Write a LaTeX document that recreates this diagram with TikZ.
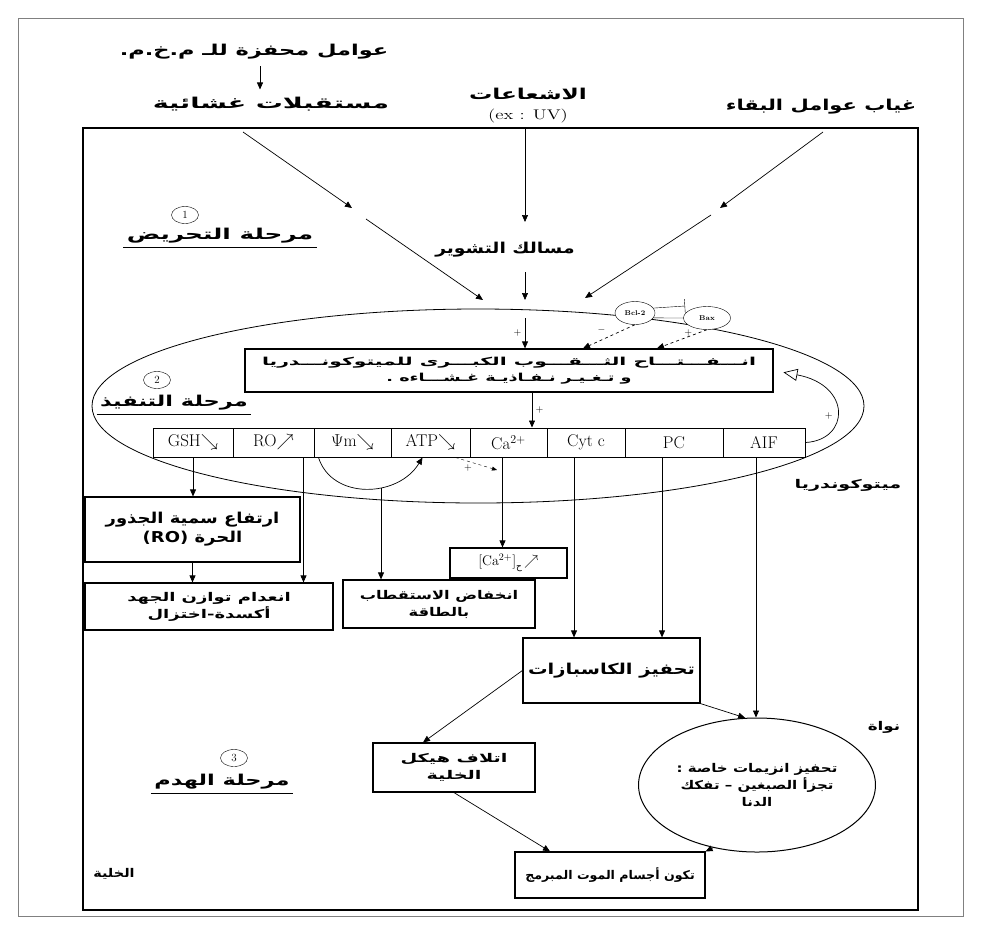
\documentclass[tikz,border=0pt]{standalone}
\usepackage{fontspec}
\usepackage{amsmath}
\usepackage{graphicx}
\usetikzlibrary{arrows.meta, positioning, shapes.geometric}
\TeXXeTstate=1
\newfontfamily\arabicfont[Script=Arabic]{DejaVu Sans}
% right-to-left line, stretched sideways to the width of the printed label
\newcommand{\rtl}[2][1]{\scalebox{#1}[1]{\beginR #2\endR}}

\tikzset{
  cellframe/.style={draw, line width=1.2pt},
  box/.style={draw, line width=1.2pt, align=center, inner sep=2pt},
  cellbox/.style={draw, line width=1pt, minimum height=29pt, inner sep=0pt, font=\fontsize{17}{19}\selectfont},
  flow/.style={-{Triangle[length=7pt,width=6pt]}, line width=0.7pt},
  lab/.style={font=\arabicfont\bfseries\fontsize{15}{19}\selectfont, align=center},
  small lab/.style={font=\arabicfont\bfseries\fontsize{12}{17}\selectfont, align=center},
  stagenum/.style={draw, ellipse, inner sep=0pt, minimum width=27pt, minimum height=17pt, font=\fontsize{11}{11}\selectfont},
  protein/.style={draw, ellipse, inner sep=0pt, minimum height=23pt, font=\fontsize{7}{8}\selectfont\bfseries}
}

\begin{document}
\begin{tikzpicture}[x=1pt, y=-1pt]
    \useasboundingbox (0,0) rectangle (981,924);

    % outer frame and cell
    \draw[line width=0.6pt, gray] (18,18) rectangle (963,916);
    \draw[cellframe] (83,128) rectangle (918,910);

    % mitochondrion
    \node[draw, ellipse, line width=0.8pt, minimum width=772pt, minimum height=194pt] (mito) at (478,406) {};

    % inducers
    \node[lab] (trig) at (254,52) {\rtl[1.5]{عوامل محفزة للـ م.خ.م.}};
    \node[lab] (recep) at (271,104) {\rtl[1.8]{مستقبلات غشائية}};
    \node[lab] (rad) at (528,94) {\rtl[1.55]{الاشعاعات}};
    \node[font=\fontsize{14}{16}\selectfont] (ex) at (528,116) {\scalebox{1.35}[1]{(ex : UV)}};
    \node[lab] (surv) at (821,107) {\rtl[1.4]{غياب عوامل البقاء}};
    \draw[flow, shorten <=3pt, shorten >=4pt] (trig.south -| 260,0) -- (recep.north -| 260,0);

    % stage 1
    \node[stagenum] (n1) at (185,215) {1};
    \node[lab] (st1) at (220,236) {\rtl[1.65]{مرحلة التحريض}};
    \draw (st1.south west) -- (st1.south east);
    \node[lab] (sigway) at (505,250) {\rtl[1.25]{مسالك التشوير}};

    % signal arrows
    \coordinate (l0) at (243,132); \coordinate (l1) at (352,208);
    \coordinate (l2) at (366,219); \coordinate (l3) at (483,300);
    \coordinate (r0) at (823,132); \coordinate (r1) at (720,208);
    \coordinate (r2) at (711,215); \coordinate (r3) at (585,298);
    \coordinate (c0) at (525,128); \coordinate (c1) at (525,222);
    \coordinate (c2) at (525,272); \coordinate (c3) at (525,300);
    \coordinate (c4) at (525,318);
    \draw[flow] (l0) -- (l1); \draw[flow] (l2) -- (l3);
    \draw[flow] (r0) -- (r1); \draw[flow] (r2) -- (r3);
    \draw[flow] (c0) -- (c1); \draw[flow] (c2) -- (c3);

    % membrane pore box
    \node[box, minimum width=528pt, minimum height=43pt, font=\arabicfont\bfseries\fontsize{11}{16}\selectfont] (mpt) at (509,370.5)
      {\rtl[1.85]{انـــفـــتـــاح الثـــقـــوب الكبـــرى للميتوكونـــدريا}\\\rtl[1.6]{و تـغـيـر نـفـاذيـة غـشـــاءه .}};
    \draw[flow] (c4) -- (c4 |- mpt.north) node[midway, left] {+};

    % Bcl-2 / Bax
    \node[protein, minimum width=40pt, fill=white] (bcl) at (635,313) {Bcl-2};
    \node[protein, minimum width=47pt, fill=white] (bax) at (707,318) {Bax};
    \coordinate (inh) at (685,306);
    \draw[-{Bar[width=14pt]}] (bcl.15) -- (inh);
    \draw (bcl.-15) -- (bax.west);
    \draw[flow, dashed] (bcl.south) -- ([xshift=74pt]mpt.north) node[midway, above left] {$-$};
    \draw[flow, dashed] (bax.south) -- ([xshift=148pt]mpt.north) node[midway, above right=-2pt] {+};

    % stage 2
    \node[stagenum] (n2) at (157,380) {2};
    \node[lab] (st2) at (174,403) {\rtl[1.5]{مرحلة التنفيذ}};
    \draw (st2.south west) -- (st2.south east);

    % mitochondrial factors
    \node[cellbox, minimum width=80pt] (gsh) at (193,442.5) {GSH$\searrow$};
    \node[cellbox, minimum width=81pt] (ro) at (273.5,442.5) {RO$\nearrow$};
    \node[cellbox, minimum width=77pt] (psi) at (352.5,442.5) {$\Psi$m$\searrow$};
    \node[cellbox, minimum width=79pt] (atp) at (430.5,442.5) {ATP$\searrow$};
    \node[cellbox, minimum width=77pt] (ca) at (508.5,442.5) {Ca$^{2+}$};
    \node[cellbox, minimum width=78pt] (cyt) at (586,442.5) {Cyt c};
    \node[cellbox, minimum width=98pt] (pc) at (674,442.5) {PC};
    \node[cellbox, minimum width=82pt] (aif) at (764,442.5) {AIF};
    \draw[flow] ([xshift=23pt]mpt.south) -- ([xshift=23pt]mpt.south |- ca.north) node[midway, right] {+};
    \draw[-{Triangle[open, length=14pt, width=12pt]}, line width=0.7pt, shorten >=10pt]
      (aif.east) .. controls (850,440) and (852,385) .. (mpt.east) node[pos=0.45, left] {+};
    \node[small lab] (mitolab) at (848,485) {\rtl[1.6]{ميتوكوندريا}};

    % consequences
    \node[box, lab, minimum width=215pt, minimum height=65pt] (robox) at (192.5,529.5)
      {\rtl[1.2]{ارتفاع سمية الجذور}\\\rtl[1.2]{الحرة \beginL(RO)\endL}};
    \node[box, small lab, minimum width=248pt, minimum height=47pt] (redox) at (209,606.5)
      {\rtl[1.5]{انعدام توازن الجهد}\\\rtl[1.5]{أكسدة-اختزال}};
    \node[box, small lab, minimum width=192pt, minimum height=48pt] (depol) at (439,604)
      {\rtl[1.35]{انخفاض الاستقطاب}\\\rtl[1.35]{بالطاقة}};
    \node[box, minimum width=117pt, minimum height=30pt, font=\fontsize{14}{16}\selectfont] (cac) at (508.5,563)
      {[Ca$^{2+}$]\raisebox{-4pt}{\arabicfont\fontsize{9}{9}\selectfont ح}\,$\nearrow$};
    \draw[flow] (gsh.south) -- (gsh.south |- robox.north);
    \draw[flow] (robox.south) -- (robox.south |- redox.north);
    \draw[flow] ([xshift=-11pt]ro.south east) -- ([xshift=-11pt]ro.south east |- redox.north);
    \draw[flow] ([xshift=5pt]psi.south west) .. controls (332,500) and (398,498) .. ([xshift=32pt]atp.south west);
    \coordinate (psidrop) at (381,488);
    \draw[flow] (psidrop) -- (psidrop |- depol.north);
    \draw[dashed, -{Triangle[length=5pt,width=4pt]}] ([xshift=-15pt]atp.south east) -- (497,470)
      node[pos=0.3, below] {+};
    \draw[flow] ([xshift=-6pt]ca.south) -- ([xshift=-6pt]ca.south |- cac.north);

    % stage 3
    \node[box, lab, minimum width=177pt, minimum height=65pt] (casp) at (611.5,670.5) {\rtl[1.3]{تحفيز الكاسبازات}};
    \node[box, small lab, minimum width=162pt, minimum height=49pt] (cyto) at (454,767.5)
      {\rtl[1.6]{اتلاف هيكل}\\\rtl[1.6]{الخلية}};
    \node[draw, ellipse, line width=1pt, small lab, minimum width=224pt, minimum height=134pt] (nuc) at (757,785)
      {\rtl[1.25]{تحفيز انزيمات خاصة :}\\\rtl[1.25]{تجزأ الصبغين – تفكك}\\\rtl[1.25]{الدنا}};
    \node[small lab] (nuclab) at (884,727) {\rtl[1.4]{نواة}};
    \node[box, small lab, minimum width=190pt, minimum height=46pt] (apop) at (610,875) {\rtl[1.05]{تكون أجسام الموت المبرمج}};
    \draw[flow] ([xshift=-12pt]cyt.south) -- ([xshift=-12pt]cyt.south |- casp.north);
    \draw[flow] ([xshift=-12pt]pc.south) -- ([xshift=-12pt]pc.south |- casp.north);
    \draw[flow] ([xshift=-8pt]aif.south) -- ([xshift=-8pt]aif.south |- nuc.north);
    \draw[flow] (casp.west) -- ([xshift=-31pt]cyto.north);
    \draw[flow] (casp.south east) -- (nuc.100);
    \draw[flow] (cyto.south) -- ([xshift=-60pt]apop.north);
    \draw[flow] (nuc.235) -- (apop.north east);

    \node[stagenum] (n3) at (234,758) {3};
    \node[lab] (st3) at (222,782) {\rtl[1.5]{مرحلة الهدم}};
    \draw (st3.south west) -- (st3.south east);
    \node[small lab] (celllab) at (114,874) {\rtl[1.2]{الخلية}};
\end{tikzpicture}
\end{document}
